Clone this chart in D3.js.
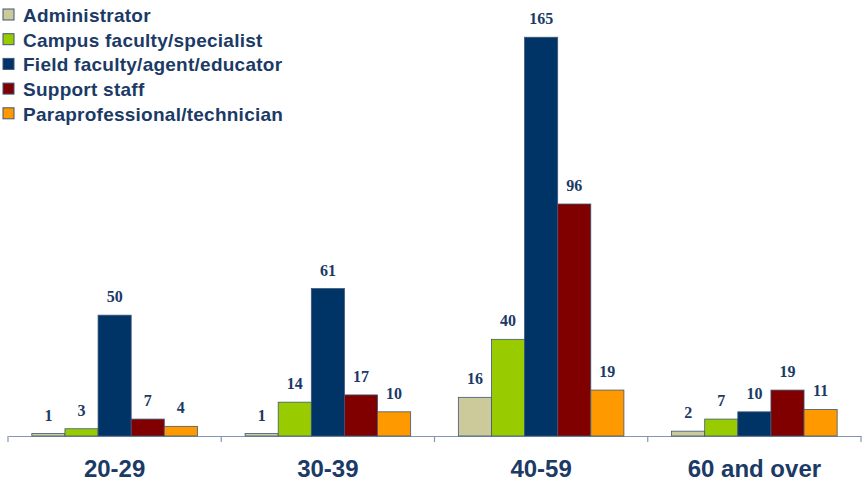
<!DOCTYPE html>
<html>
<head>
<meta charset="utf-8">
<script src="https://cdn.jsdelivr.net/npm/d3@7"></script>
<style>
  html, body { margin: 0; padding: 0; background: #fff; }
  svg { display: block; }
</style>
</head>
<body>
<svg id="chart" width="867" height="483"></svg>
<script>
// Staff counts by age group and position type
const ageGroups = ["20-29", "30-39", "40-59", "60 and over"];
const positions = [
  "Administrator",
  "Campus faculty/specialist",
  "Field faculty/agent/educator",
  "Support staff",
  "Paraprofessional/technician"
];
const administrator = [1, 1, 16, 2];
const campusFaculty = [3, 14, 40, 7];
const fieldFaculty = [50, 61, 165, 10];
const supportStaff = [7, 17, 96, 19];
const paraprofessional = [4, 10, 19, 11];
const seriesValues = [administrator, campusFaculty, fieldFaculty, supportStaff, paraprofessional];
const colors = ["#CCC99A", "#99CC00", "#003366", "#800000", "#FF9900"];

const svg = d3.select("#chart");
const plotLeft = 8, plotRight = 861, plotBase = 436, plotTop = 1;
const navy = "#1B3A66";

const x0 = d3.scaleBand().domain(ageGroups).range([plotLeft, plotRight]).paddingInner(0).paddingOuter(0);
const x1 = d3.scaleBand().domain(positions).range([0, x0.bandwidth()]).paddingInner(0).paddingOuter(0.72);
const y = d3.scaleLinear().domain([0, 180]).range([plotBase, plotTop]);

// Category axis
const axis = svg.append("g")
  .attr("transform", `translate(0,${plotBase})`)
  .call(d3.axisBottom(x0).tickSize(0).tickFormat(""));
axis.select(".domain").attr("stroke", "#8497B0").attr("stroke-width", 1.2);
const boundaries = ageGroups.map(g => x0(g)).concat([plotRight]);
axis.selectAll(".sep").data(boundaries).join("line")
  .attr("class", "sep")
  .attr("x1", d => d).attr("x2", d => d)
  .attr("y1", 0).attr("y2", 6)
  .attr("stroke", "#8497B0").attr("stroke-width", 1.2);

// Bars and value labels
const groups = svg.append("g").selectAll("g")
  .data(ageGroups).join("g")
  .attr("transform", d => `translate(${x0(d)},0)`);

groups.each(function(g, gi) {
  const sel = d3.select(this);
  const data = positions.map((p, si) => ({ p, si, v: seriesValues[si][gi] }));
  sel.selectAll("rect").data(data).join("rect")
    .attr("x", d => x1(d.p))
    .attr("y", d => y(d.v))
    .attr("width", x1.bandwidth())
    .attr("height", d => plotBase - y(d.v))
    .attr("fill", d => colors[d.si])
    .attr("stroke", "#3E5679")
    .attr("stroke-width", 0.8);
  sel.selectAll("text").data(data).join("text")
    .attr("x", d => x1(d.p) + x1.bandwidth() / 2)
    .attr("y", d => y(d.v) - 13)
    .attr("text-anchor", "middle")
    .attr("font-family", "'Liberation Serif', 'Times New Roman', serif")
    .attr("font-weight", "bold")
    .attr("font-size", 16)
    .attr("fill", navy)
    .text(d => d.v);
});

// Category labels
svg.append("g").selectAll("text").data(ageGroups).join("text")
  .attr("x", d => x0(d) + x0.bandwidth() / 2)
  .attr("y", 477)
  .attr("text-anchor", "middle")
  .attr("font-family", "'Liberation Sans', Arial, sans-serif")
  .attr("font-weight", "bold")
  .attr("font-size", 24)
  .attr("fill", navy)
  .text(d => d);

// Legend
const legend = svg.append("g").selectAll("g").data(positions).join("g")
  .attr("transform", (d, i) => `translate(3,${15 + i * 24.7})`);
legend.append("rect")
  .attr("x", 0).attr("y", -6).attr("width", 11).attr("height", 11)
  .attr("fill", (d, i) => colors[i])
  .attr("stroke", "#3E5679").attr("stroke-width", 1);
legend.append("text")
  .attr("x", 20).attr("y", 7)
  .attr("font-family", "'Liberation Sans', Arial, sans-serif")
  .attr("font-weight", "bold")
  .attr("font-size", 19)
  .attr("letter-spacing", 0.25)
  .attr("fill", navy)
  .text(d => d);
</script>
</body>
</html>
